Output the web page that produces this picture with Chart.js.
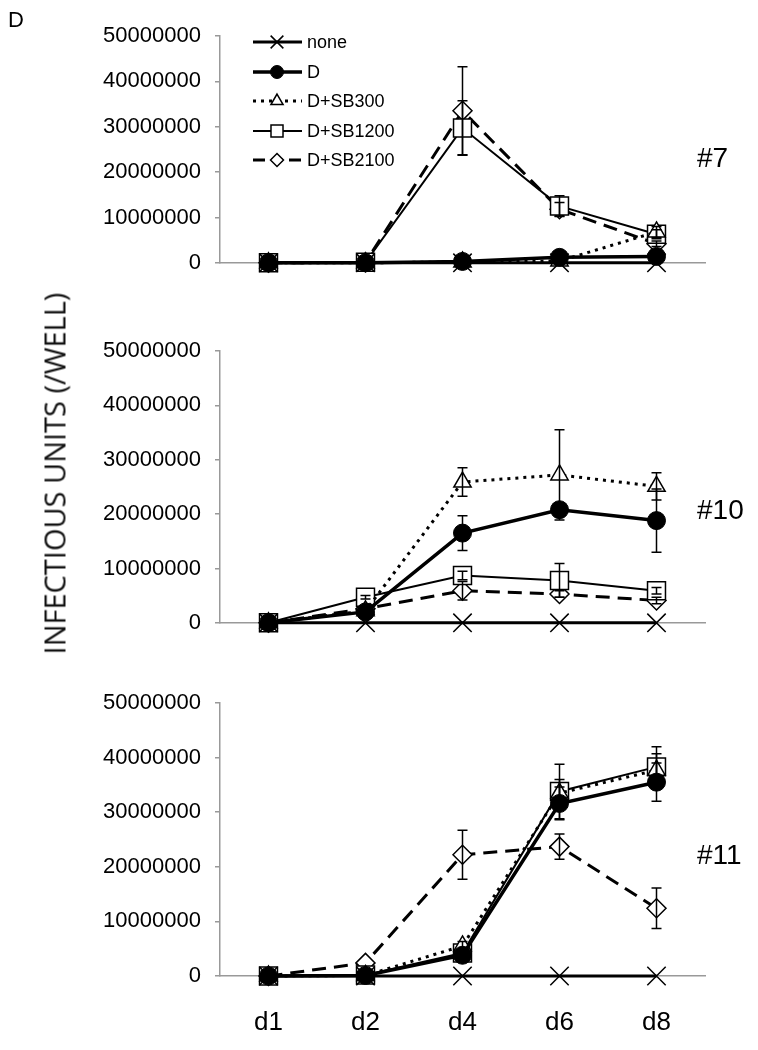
<!DOCTYPE html>
<html>
<head>
<meta charset="utf-8">
<script src="https://cdn.jsdelivr.net/npm/chart.js@4/dist/chart.umd.min.js"></script>
<style>
  body { margin: 0; background: #fff; }
  #wrap { position: relative; width: 758px; height: 1050px; overflow: hidden; font-family: "Liberation Sans", Arial, sans-serif; color: #000; }
  canvas { position: absolute; left: 0; }
  .lbl { position: absolute; line-height: 1; white-space: nowrap; }
  .num { font-size: 28px; left: 697px; }
  #ytitle { position: absolute; width: 420px; height: 29px; left: -156px; top: 459px; text-align: center;
            font-family: "Open Sans", sans-serif; font-size: 29px; line-height: 29px; transform: rotate(-90deg); color: #111; }
</style>
</head>
<body>
<div id="wrap">
  <canvas id="c7" width="758" height="290" style="top:0px"></canvas>
  <canvas id="c10" width="758" height="350" style="top:300px"></canvas>
  <canvas id="c11" width="758" height="400" style="top:650px"></canvas>
  <div class="lbl" style="left:8px; top:9px; font-size:22px;">D</div>
  <div class="lbl num" style="top:144px;">#7</div>
  <div class="lbl num" style="top:496px;">#10</div>
  <div class="lbl num" style="top:841px;">#11</div>
  <div id="ytitle">INFECTIOUS UNITS (/WELL)</div>
</div>
<script>
const days = ["d1", "d2", "d4", "d6", "d8"];
const seriesNames = ["none", "D", "D+SB300", "D+SB1200", "D+SB2100"];
const yTicks = [0, 10000000, 20000000, 30000000, 40000000, 50000000];

// #7
const none7 = [0, 0, 0, 0, 0];
const d7 = [0, 0, 0.3e6, 1.2e6, 1.4e6];
const sb300_7 = [0, 0, 0.2e6, 0.4e6, 6.8e6];
const sb1200_7 = [0, 0.1e6, 29.7e6, 12.5e6, 6.3e6];
const sb2100_7 = [0, 0.1e6, 33.5e6, 11.8e6, 4.2e6];
const d7Err = [0, 0, 0.2e6, 0.4e6, 0.5e6];
const sb300_7Err = [0, 0, 0, 0, 1.2e6];
const sb1200_7Err = [0, 0, 6e6, 2.3e6, 1e6];
const sb2100_7Err = [0, 0, 9.7e6, 1.5e6, 0.6e6];

// #10
const none10 = [0, 0, 0, 0, 0];
const d10 = [0, 2.0e6, 16.5e6, 20.8e6, 18.8e6];
const sb300_10 = [0, 2.2e6, 25.9e6, 27.2e6, 25.1e6];
const sb1200_10 = [0, 4.7e6, 8.7e6, 7.8e6, 5.9e6];
const sb2100_10 = [0, 2.6e6, 5.9e6, 5.3e6, 4.1e6];
const d10Err = [0, 0.3e6, 3.2e6, 1.3e6, 5.8e6];
const sb300_10Err = [0, 0.3e6, 2.6e6, 8.3e6, 2.5e6];
const sb1200_10Err = [0, 0.3e6, 0.8e6, 3.1e6, 0.6e6];
const sb2100_10Err = [0, 0.2e6, 1.7e6, 0.6e6, 0.6e6];

// #11
const none11 = [0, 0, 0, 0, 0];
const d11 = [0, 0.1e6, 3.8e6, 31.6e6, 35.5e6];
const sb300_11 = [0, 0.1e6, 5.5e6, 33.5e6, 37.7e6];
const sb1200_11 = [0, 0.2e6, 4.2e6, 33.8e6, 38.3e6];
const sb2100_11 = [0, 2.4e6, 22.2e6, 23.7e6, 12.4e6];
const d11Err = [0, 0, 0.5e6, 3e6, 3.5e6];
const sb300_11Err = [0, 0, 0.8e6, 2.5e6, 3e6];
const sb1200_11Err = [0, 0, 0.5e6, 5e6, 3.7e6];
const sb2100_11Err = [0, 0, 4.5e6, 2.3e6, 3.7e6];

const zeros = [0, 0, 0, 0, 0];

// line / marker look per series
const looks = [
  { borderWidth: 3, borderDash: [], pointStyle: "crossRot", radius: 13, bg: "#000", pbw: 1.5, lr: 9 },
  { borderWidth: 3.5, borderDash: [], pointStyle: "circle", radius: 9, bg: "#000", pbw: 1, lr: 6.5 },
  { borderWidth: 3, borderDash: [3, 5], pointStyle: "triangle", radius: 10, bg: "#fff", pbw: 1.5, lr: 7 },
  { borderWidth: 2, borderDash: [], pointStyle: "rect", radius: 12.7, bg: "#fff", pbw: 1.5, lr: 8.5 },
  { borderWidth: 3, borderDash: [14, 8], pointStyle: "rectRot", radius: 9.5, bg: "#fff", pbw: 1.5, lr: 6.5 },
];

const errorBars = {
  id: "errorBars",
  afterDatasetsDraw(chart) {
    const ctx = chart.ctx;
    const xs = chart.scales.x, ys = chart.scales.y;
    ctx.save();
    ctx.strokeStyle = "#000";
    ctx.lineWidth = 1.5;
    ctx.setLineDash([]);
    chart.data.datasets.forEach((ds) => {
      (ds.errors || []).forEach((e, i) => {
        if (!e) return;
        const px = xs.getPixelForValue(i);
        const top = ys.getPixelForValue(ds.data[i] + e);
        const bot = ys.getPixelForValue(Math.max(0, ds.data[i] - e));
        ctx.beginPath();
        ctx.moveTo(px, top); ctx.lineTo(px, bot);
        ctx.moveTo(px - 5, top); ctx.lineTo(px + 5, top);
        ctx.moveTo(px - 5, bot); ctx.lineTo(px + 5, bot);
        ctx.stroke();
      });
    });
    ctx.restore();
  },
};

const lineLegend = {
  id: "lineLegend",
  afterDraw(chart) {
    const ctx = chart.ctx;
    const rows = [42, 72, 101, 131, 160];
    ctx.save();
    chart.data.datasets.forEach((ds, i) => {
      const lk = looks[i];
      const y = rows[i];
      ctx.strokeStyle = "#000";
      ctx.lineWidth = lk.borderWidth;
      ctx.setLineDash(i === 4 ? [12, 6] : lk.borderDash);
      ctx.beginPath();
      ctx.moveTo(253, y); ctx.lineTo(302, y);
      ctx.stroke();
      ctx.setLineDash([]);
      ctx.fillStyle = lk.bg;
      ctx.lineWidth = lk.pbw;
      Chart.helpers.drawPoint(ctx, { pointStyle: lk.pointStyle, radius: lk.lr, rotation: 0, borderWidth: lk.pbw }, 277, y);
      ctx.fillStyle = "#000";
      ctx.font = "18px 'Liberation Sans', Arial, sans-serif";
      ctx.textBaseline = "middle";
      ctx.fillText(ds.label, 307, y + 1);
    });
    ctx.restore();
  },
};

function makePanel(id, values, errs, o) {
  const datasets = values.map((v, i) => ({
    label: seriesNames[i],
    data: v,
    errors: errs[i],
    borderColor: "#000",
    borderWidth: looks[i].borderWidth,
    borderDash: looks[i].borderDash,
    pointStyle: looks[i].pointStyle,
    pointRadius: looks[i].radius,
    pointBorderWidth: looks[i].pbw,
    pointBorderColor: "#000",
    pointBackgroundColor: looks[i].bg,
    tension: 0,
    clip: false,
  }));
  return new Chart(document.getElementById(id), {
    type: "line",
    data: { labels: days, datasets: datasets },
    plugins: o.legend ? [errorBars, lineLegend] : [errorBars],
    options: {
      responsive: false,
      animation: false,
      layout: { padding: { top: o.top, right: 53, left: 0, bottom: 0 } },
      plugins: { legend: { display: false }, tooltip: { enabled: false } },
      scales: {
        x: {
          offset: true,
          grid: { display: true, drawOnChartArea: false, drawTicks: false, color: "#888" },
          border: { display: true, color: "#999", width: 1.5 },
          ticks: {
            display: o.showX,
            color: "#000",
            padding: 31,
            font: { family: "'Liberation Sans', Arial, sans-serif", size: 26 },
          },
          afterFit: (s) => { s.height = o.bottom; },
        },
        y: {
          min: yTicks[0],
          max: yTicks[yTicks.length - 1],
          afterBuildTicks: (s) => { s.ticks = yTicks.map((v) => ({ value: v })); },
          ticks: {
            color: "#000",
            padding: 14,
            callback: (v) => String(v),
            font: { family: "'Liberation Sans', Arial, sans-serif", size: 22 },
          },
          grid: { drawOnChartArea: false, drawTicks: true, tickLength: 5, color: "#999", lineWidth: 1.5 },
          border: { display: true, color: "#999", width: 1.5 },
          afterFit: (s) => { s.width = 220; },
        },
      },
    },
  });
}

makePanel("c7",
  [none7, d7, sb300_7, sb1200_7, sb2100_7],
  [zeros, d7Err, sb300_7Err, sb1200_7Err, sb2100_7Err],
  { top: 36, bottom: 18, showX: false, legend: true });
makePanel("c10",
  [none10, d10, sb300_10, sb1200_10, sb2100_10],
  [zeros, d10Err, sb300_10Err, sb1200_10Err, sb2100_10Err],
  { top: 51, bottom: 17, showX: false, legend: false });
makePanel("c11",
  [none11, d11, sb300_11, sb1200_11, sb2100_11],
  [zeros, d11Err, sb300_11Err, sb1200_11Err, sb2100_11Err],
  { top: 53, bottom: 74, showX: true, legend: false });
</script>
</body>
</html>
